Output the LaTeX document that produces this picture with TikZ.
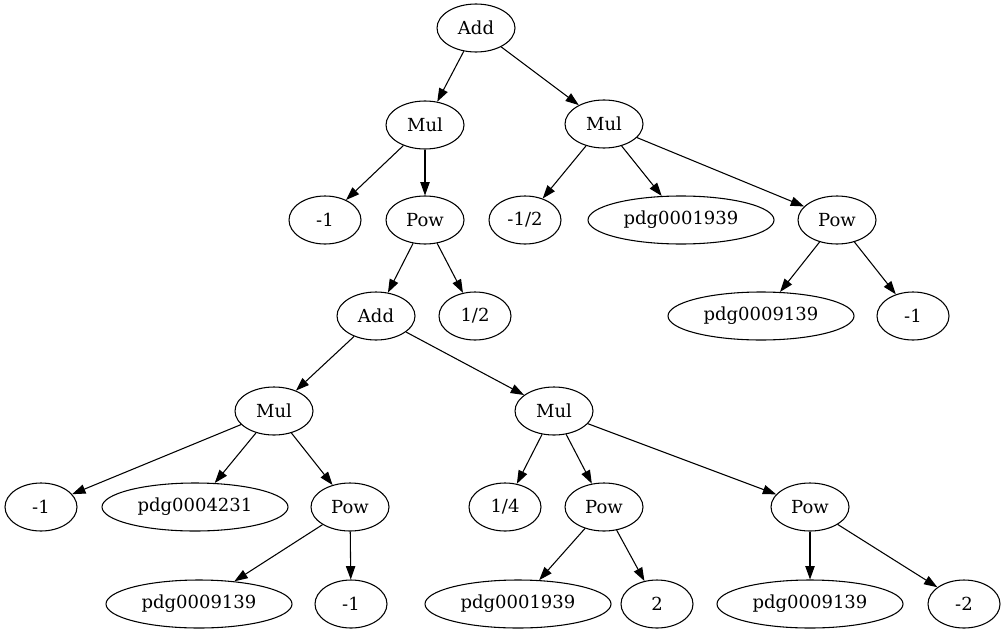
\documentclass[tikz,border=0pt]{standalone}
\usepackage{fontspec}
\setmainfont{DejaVu Serif}
\usetikzlibrary{shapes.geometric,arrows.meta}

\tikzset{
  tnode/.style={draw, line width=0.8pt, ellipse, inner sep=0pt, minimum height=36pt, minimum width=58.5pt, font=\fontsize{13.5}{16}\selectfont},
  numnode/.style={tnode, minimum width=54pt},
  symnode/.style={tnode, minimum width=139.5pt},
  edge/.style={-{Triangle[length=10pt,width=7pt]}, line width=0.8pt}
}

\begin{document}
\begin{tikzpicture}[x=0.75pt, y=-0.75pt]

\useasboundingbox (0,0) rectangle (1005,635);

% top
\node [tnode]   (add0) at (476, 28)  {Add};
\node [tnode]   (mul1) at (425, 125) {Mul};
\node [tnode]   (mul2) at (604, 124) {Mul};

% second row
\node [numnode] (m1a)  at (325, 220) {-1};
\node [tnode]   (pow1) at (425, 220) {Pow};
\node [numnode] (mhalf) at (525, 220) {-1/2};
\node [symnode] (pdgA) at (681, 220) {pdg0001939};
\node [tnode]   (pow2) at (837, 220) {Pow};

% third row
\node [tnode]   (add1) at (376, 316) {Add};
\node [numnode] (half) at (475, 316) {1/2};
\node [symnode] (pdgB) at (761, 316) {pdg0009139};
\node [numnode] (m1b)  at (913, 316) {-1};

% fourth row
\node [tnode]   (mul3) at (274, 411) {Mul};
\node [tnode]   (mul4) at (554, 411) {Mul};

% fifth row
\node [numnode] (m1c)  at (41, 507)  {-1};
\node [symnode] (pdgC) at (195, 507) {pdg0004231};
\node [tnode]   (pow3) at (350, 507) {Pow};
\node [numnode] (qrt)  at (505, 507) {1/4};
\node [tnode]   (pow4) at (604, 507) {Pow};
\node [tnode]   (pow5) at (810, 507) {Pow};

% last row
\node [symnode] (pdgD) at (199, 604) {pdg0009139};
\node [numnode] (m1d)  at (351, 604) {-1};
\node [symnode] (pdgE) at (518, 604) {pdg0001939};
\node [numnode] (two)  at (657, 604) {2};
\node [symnode] (pdgF) at (810, 604) {pdg0009139};
\node [numnode] (m2)   at (964, 604) {-2};

% -------- edges -----------
\draw [edge] (add0) -- (mul1);
\draw [edge] (add0) -- (mul2);
\draw [edge] (mul1) -- (m1a);
\draw [edge] (mul1) -- (pow1);
\draw [edge] (mul2) -- (mhalf);
\draw [edge] (mul2) -- (pdgA);
\draw [edge] (mul2) -- (pow2);
\draw [edge] (pow1) -- (add1);
\draw [edge] (pow1) -- (half);
\draw [edge] (pow2) -- (pdgB);
\draw [edge] (pow2) -- (m1b);
\draw [edge] (add1) -- (mul3);
\draw [edge] (add1) -- (mul4);
\draw [edge] (mul3) -- (m1c);
\draw [edge] (mul3) -- (pdgC);
\draw [edge] (mul3) -- (pow3);
\draw [edge] (mul4) -- (qrt);
\draw [edge] (mul4) -- (pow4);
\draw [edge] (mul4) -- (pow5);
\draw [edge] (pow3) -- (pdgD);
\draw [edge] (pow3) -- (m1d);
\draw [edge] (pow4) -- (pdgE);
\draw [edge] (pow4) -- (two);
\draw [edge] (pow5) -- (pdgF);
\draw [edge] (pow5) -- (m2);

\end{tikzpicture}
\end{document}
